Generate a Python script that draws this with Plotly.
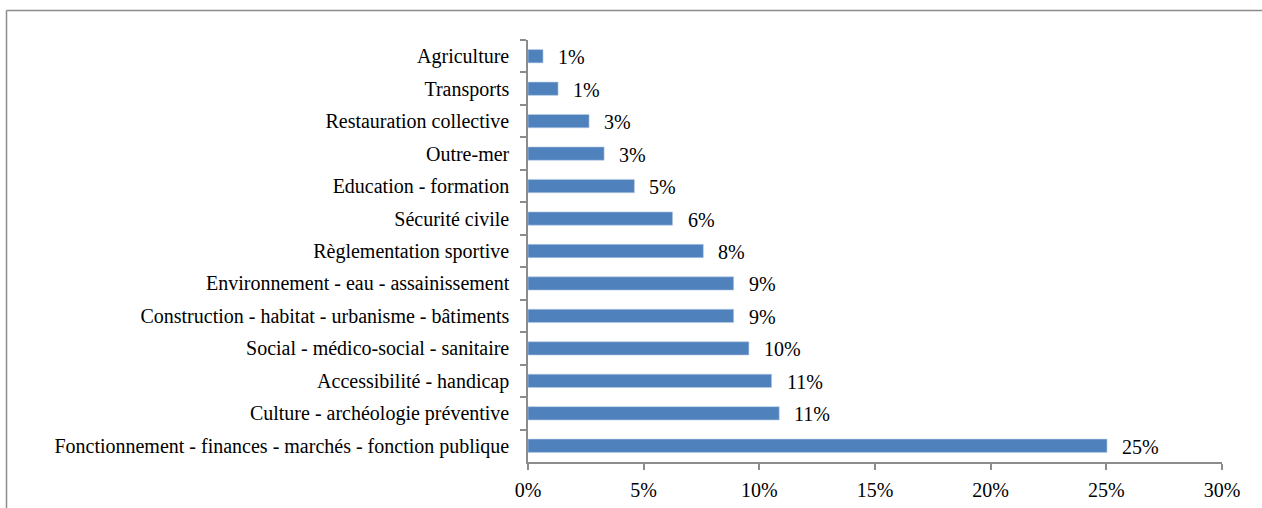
import plotly.graph_objects as go

categories = [
    "Agriculture",
    "Transports",
    "Restauration collective",
    "Outre-mer",
    "Education - formation",
    "Sécurité civile",
    "Règlementation sportive",
    "Environnement - eau - assainissement",
    "Construction - habitat - urbanisme - bâtiments",
    "Social - médico-social - sanitaire",
    "Accessibilité - handicap",
    "Culture - archéologie préventive",
    "Fonctionnement - finances - marchés - fonction publique",
]
values = [0.65, 1.3, 2.64, 3.29, 4.60, 6.25, 7.58, 8.89, 8.89, 9.55, 10.53, 10.86, 25.03]
x_ticks = [0, 5, 10, 15, 20, 25, 30]

FONT = "Liberation Serif"
BAR = "#4F81BD"
AXIS = "#8c8c8c"

fig = go.Figure()
fig.add_trace(go.Bar(
    x=values, y=categories, orientation="h",
    marker=dict(color=BAR, line=dict(color="#b9cde5", width=0.6)),
    width=0.41, hoverinfo="skip",
))

for c, v in zip(categories, values):
    fig.add_annotation(x=v, y=c, text=f"{round(v)}%", showarrow=False,
                       xanchor="left", yanchor="middle", xshift=13, yshift=-1,
                       font=dict(family=FONT, size=20, color="#000"))

W, H = 1262, 508
L, R, T, B = 528, 40, 40, 46
pw, ph = W - L - R, H - T - B

def px2paper_x(px):
    return (px - L) / pw

def px2paper_y(py):
    return 1 - (py - T) / ph

fig.add_shape(type="line", xref="paper", yref="paper",
              x0=px2paper_x(6.5), x1=px2paper_x(1300), y0=px2paper_y(10.5), y1=px2paper_y(10.5),
              line=dict(color=AXIS, width=1.5))
fig.add_shape(type="line", xref="paper", yref="paper",
              x0=px2paper_x(6.5), x1=px2paper_x(6.5), y0=px2paper_y(10.5), y1=px2paper_y(540),
              line=dict(color=AXIS, width=1.5))

fig.update_layout(
    width=W, height=H,
    margin=dict(l=L, r=R, t=T, b=B, pad=0, autoexpand=False),
    plot_bgcolor="white", paper_bgcolor="white",
    showlegend=False,
    font=dict(family=FONT, size=20, color="#000"),
    xaxis=dict(range=[0, 30], tickvals=x_ticks, ticktext=[f"{t}%" for t in x_ticks],
               automargin=False,
               showgrid=False, zeroline=False, showline=True, linecolor=AXIS, linewidth=1.5,
               ticks="outside", ticklen=6, tickcolor=AXIS, tickwidth=1.5,
               ticklabelstandoff=3, tickfont=dict(family=FONT, size=20, color="#000")),
    yaxis=dict(autorange="reversed", automargin=False, showgrid=False, zeroline=False,
               showline=True, linecolor=AXIS, linewidth=1.5, ticks="outside", ticklen=6,
               tickcolor=AXIS, tickwidth=1.5, tickson="boundaries", ticklabelstandoff=13,
               tickfont=dict(family=FONT, size=20, color="#000")),
)

fig.write_html("out.html", config={"displayModeBar": False},
               post_script="document.body.style.margin='0';document.body.style.overflow='hidden';")
